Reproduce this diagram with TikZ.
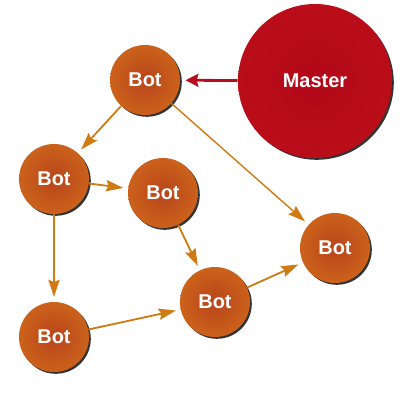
\documentclass[tikz,border=0pt]{standalone}
\usepackage{fontspec}
\setsansfont{Liberation Sans}
\usepackage{tikz}
\usetikzlibrary{arrows.meta,shadows}

\definecolor{botin}{HTML}{B8441B}
\definecolor{botout}{HTML}{CB621B}
\definecolor{masterin}{HTML}{B20818}
\definecolor{masterout}{HTML}{BA0D19}
\definecolor{linkcol}{HTML}{D07A12}
\definecolor{mastercol}{HTML}{B80D1E}

\begin{document}
\begin{tikzpicture}[x=0.25mm,y=-0.25mm,
  bot/.style={circle,minimum size=17.5mm,inner sep=0pt,inner color=botin,outer color=botout,
    drop shadow={shadow xshift=0.45mm,shadow yshift=-0.45mm,opacity=0.8,fill=black},
    text=white,font=\sffamily\bfseries\fontsize{14.2}{16}\selectfont},
  master/.style={bot,minimum size=38.5mm,inner color=masterin,outer color=masterout},
  link/.style={draw=linkcol,line width=0.45mm,shorten >=1.2mm,
    -{Stealth[length=4.3mm,width=2.8mm,inset=0.6mm]}},
  order/.style={draw=mastercol,line width=0.7mm,shorten >=1.3mm,
    -{Stealth[length=3.2mm,width=3.2mm,inset=0.4mm]}}]
  \useasboundingbox (0,0) rectangle (400,400);
  % nodes
  \node[master] (master) at (315,81) {Master};
  \foreach \name/\x/\y in {b1/145/80,b2/54/179,b3/163/193,b4/335/248,b5/215/302,b6/54/337}
    \node[bot] (\name) at (\x,\y) {Bot};
  % connectors
  \draw[order] (master) -- (b1);
  \foreach \from/\to in {b1/b2,b2/b3,b2/b6,b3/b5,b6/b5,b5/b4}
    \draw[link] (\from) -- (\to);
  \draw[link,line width=0.35mm] (b1) -- (b4);
\end{tikzpicture}
\end{document}
